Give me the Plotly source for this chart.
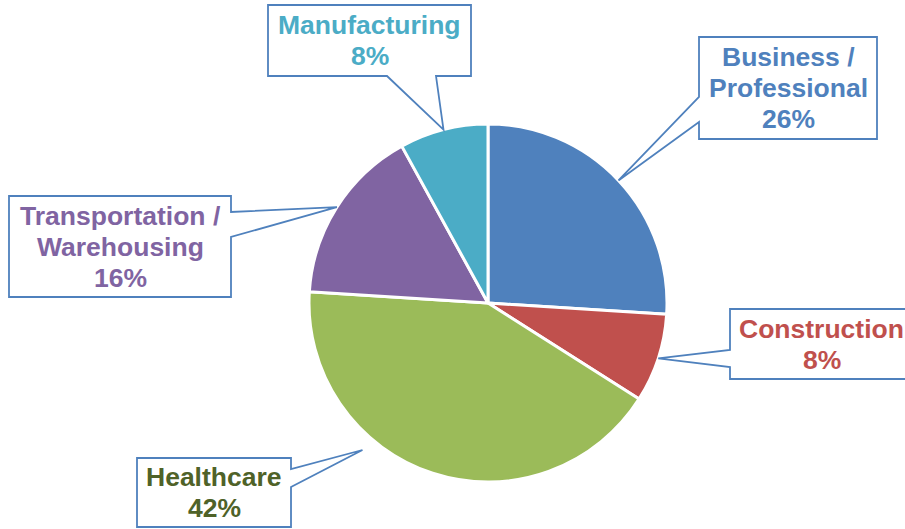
import math
import plotly.graph_objects as go

# Share of jobs by sector
sectors = ["Business /<br>Professional", "Construction", "Healthcare",
           "Transportation /<br>Warehousing", "Manufacturing"]
shares = [26, 8, 42, 16, 8]

slice_colors = ["#4F81BD", "#C0504D", "#9BBB59", "#8064A2", "#4BACC6"]
text_colors = ["#4F81BD", "#C0504D", "#4F6228", "#8064A2", "#4BACC6"]

W, H = 905, 529
CX, CY, R = 488, 303, 179  # pie centre and radius in pixels
LINE_GAP = 31              # baseline-to-baseline spacing of callout text
FONT_SIZE = 26.5

# Callout boxes (pixels): left, top, right, bottom, side the pointer leaves from,
# pointer base span along that side, and tip adjustment (angle deg, radius factor)
callouts = [
    dict(box=(699, 37, 877, 139), side="left", base=(97, 122), adj=(0, 1.0)),
    dict(box=(730, 309, 913, 379), side="left", base=(350, 367), adj=(0, 1.0)),
    dict(box=(137, 458, 291, 527), side="right", base=(469, 487), adj=(22.5, 1.08)),
    dict(box=(9, 196, 231, 297), side="right", base=(212, 237), adj=(0, 1.0)),
    dict(box=(268, 5, 471, 76), side="bottom", base=(387, 436), adj=(0, 1.0)),
]


def px(x, y):
    return x / W, 1 - y / H


fig = go.Figure(go.Pie(
    labels=[s.replace("<br>", " ") for s in sectors],
    values=shares,
    sort=False,
    direction="clockwise",
    rotation=0,
    textinfo="none",
    hoverinfo="label+percent",
    marker=dict(colors=slice_colors, line=dict(color="white", width=3)),
    domain=dict(x=[(CX - R) / W, (CX + R) / W],
                y=[1 - (CY + R) / H, 1 - (CY - R) / H]),
    showlegend=False,
))

shapes = []
annotations = []
total = sum(shares)
cum = 0
for name, val, tcol, co in zip(sectors, shares, text_colors, callouts):
    mid = (cum + val / 2) / total * 360 + co["adj"][0]
    cum += val
    rr = R * co["adj"][1]
    tx = CX + rr * math.sin(math.radians(mid))
    ty = CY - rr * math.cos(math.radians(mid))

    l, t, r, b = co["box"]
    b0, b1 = co["base"]
    if co["side"] == "left":
        pts = [(l, t), (r, t), (r, b), (l, b), (l, b1), (tx, ty), (l, b0)]
    elif co["side"] == "right":
        pts = [(l, t), (r, t), (r, b0), (tx, ty), (r, b1), (r, b), (l, b)]
    else:  # bottom
        pts = [(l, t), (r, t), (r, b), (b1, b), (tx, ty), (b0, b), (l, b)]
    path = "M " + " L ".join(f"{px(x, y)[0]:.5f},{px(x, y)[1]:.5f}" for x, y in pts) + " Z"
    shapes.append(dict(type="path", path=path, xref="paper", yref="paper",
                       fillcolor="white", line=dict(color="#4F81BD", width=1.8),
                       layer="above"))

    lines = name.split("<br>") + [f"{val}%"]
    bx, by = (l + r) / 2, (t + b) / 2
    n = len(lines)
    for i, line in enumerate(lines):
        lx, ly = px(bx, by + (i - (n - 1) / 2) * LINE_GAP)
        annotations.append(dict(
            x=lx, y=ly, xref="paper", yref="paper", showarrow=False,
            text=f"<b>{line}</b>",
            font=dict(family="Liberation Sans, Arial, sans-serif",
                      size=FONT_SIZE, color=tcol),
            xanchor="center", yanchor="middle",
        ))

fig.update_layout(
    width=W, height=H,
    margin=dict(l=0, r=0, t=0, b=0),
    paper_bgcolor="white", plot_bgcolor="white",
    shapes=shapes, annotations=annotations,
)

fig.write_html("out.html")
